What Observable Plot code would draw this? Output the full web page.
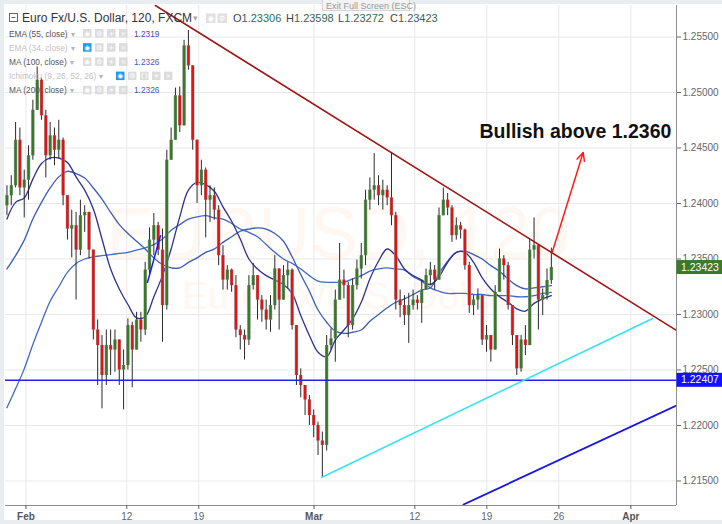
<!DOCTYPE html>
<html><head><meta charset="utf-8">
<script src="https://cdn.jsdelivr.net/npm/d3@7"></script>
<script src="https://cdn.jsdelivr.net/npm/@observablehq/plot@0.6"></script>
<style>
html,body{margin:0;padding:0;background:#e9edf0;}
#wrap{position:relative;width:722px;height:524px;background:#e9edf0;overflow:hidden;}
#panel{position:absolute;left:4px;top:4px;width:718px;height:516px;background:#fff;}
#chart{position:absolute;left:0;top:0;}
</style></head><body>
<div id="wrap"><div id="panel"></div><div id="chart"></div></div>
<script>
// ---------- DATA ----------
// x is measured in trading days since Feb 1 (weekends removed)
const tickDays = [0, 7, 12, 20, 27, 32, 37, 42];
const tickLabels = ["Feb", "12", "19", "Mar", "12", "19", "26", "Apr"];
const priceTicks = [1.215, 1.22, 1.225, 1.23, 1.235, 1.24, 1.245, 1.25, 1.255];
const xDomain = [-1.42, 45.17];
const yDomain = [1.21279, 1.25784];

// 120-min candles aggregated (one candle every 0.3 trading day)
const candleStartDay = -1.32;
const candleStep = 0.3;
const firstOpen = 1.2398;
const closes = [1.2407,1.2416,1.2457,1.2414,1.2421,1.2443,1.2484,1.2511,1.2479,1.2443,
1.2461,1.2448,1.2457,1.2407,1.2377,1.2380,1.2358,1.2389,1.2392,1.2358,
1.2286,1.2272,1.2245,1.2272,1.2268,1.2277,1.2250,1.2254,1.2290,1.2268,
1.2295,1.2286,1.2340,1.2367,1.2380,1.2358,1.2308,1.2439,1.2457,1.2497,
1.2470,1.2542,1.2524,1.2457,1.2416,1.2430,1.2403,1.2407,1.2394,1.2353,
1.2331,1.2340,1.2326,1.2286,1.2281,1.2277,1.2326,1.2335,1.2313,1.2304,
1.2295,1.2308,1.2341,1.2313,1.2335,1.2340,1.2290,1.2245,1.2236,1.2223,
1.2209,1.2200,1.2186,1.2182,1.2272,1.2278,1.2313,1.2331,1.2326,1.2290,
1.2326,1.2341,1.2353,1.2403,1.2412,1.2416,1.2407,1.2412,1.2405,1.2389,
1.2313,1.2308,1.2299,1.2308,1.2313,1.2310,1.2322,1.2335,1.2340,1.2331,
1.2389,1.2403,1.2396,1.2371,1.2380,1.2376,1.2344,1.2308,1.2313,1.2317,
1.2277,1.2281,1.2268,1.2320,1.2350,1.2344,1.2308,1.2281,1.2251,1.2277,
1.2272,1.2358,1.2362,1.2313,1.2317,1.23306,1.23423];
const highs = [1.2416,1.2425,1.2473,1.2468,1.2430,1.2452,1.2493,1.2523,1.2513,1.2484,
1.2473,1.2468,1.2475,1.2459,1.2407,1.2394,1.2392,1.2403,1.2398,1.2392,
1.2358,1.2295,1.2281,1.2286,1.2286,1.2286,1.2277,1.2268,1.2296,1.2293,
1.2302,1.2302,1.2347,1.2378,1.2391,1.2383,1.2377,1.2448,1.2468,1.2504,
1.2505,1.2547,1.2556,1.2524,1.2448,1.2439,1.2432,1.2416,1.2414,1.2398,
1.2362,1.2344,1.2341,1.2335,1.2290,1.2286,1.2335,1.2346,1.2335,1.2317,
1.2313,1.2317,1.2353,1.2341,1.2344,1.2347,1.2341,1.2290,1.2251,1.2236,
1.2227,1.2214,1.2203,1.2194,1.2281,1.2287,1.2322,1.2364,1.2340,1.2329,
1.2332,1.2349,1.2364,1.2412,1.2423,1.2445,1.2425,1.2421,1.2416,1.2446,
1.2392,1.2322,1.2317,1.2319,1.2322,1.2317,1.2331,1.2341,1.2347,1.2344,
1.2396,1.2414,1.2409,1.2398,1.2387,1.2383,1.2377,1.2347,1.2317,1.2323,
1.2317,1.2290,1.2281,1.2326,1.2359,1.2353,1.2347,1.2308,1.2281,1.2281,
1.2290,1.2368,1.2387,1.2362,1.2323,1.2341,1.23598];
const lows = [1.2389,1.2398,1.2414,1.2407,1.2387,1.2403,1.2439,1.2484,1.2475,1.2423,
1.2439,1.2434,1.2441,1.2398,1.2367,1.2351,1.2313,1.2353,1.2374,1.2350,
1.2277,1.2236,1.2215,1.2236,1.2245,1.2248,1.2236,1.2214,1.2250,1.2234,
1.2268,1.2275,1.2281,1.2335,1.2353,1.2353,1.2275,1.2304,1.2448,1.2457,
1.2464,1.2470,1.2520,1.2448,1.2400,1.2407,1.2369,1.2383,1.2385,1.2344,
1.2322,1.2322,1.2320,1.2279,1.2268,1.2259,1.2272,1.2322,1.2295,1.2293,
1.2286,1.2284,1.2304,1.2286,1.2313,1.2323,1.2286,1.2236,1.2225,1.2209,
1.2200,1.2189,1.2173,1.2153,1.2177,1.2268,1.2257,1.2313,1.2314,1.2279,
1.2286,1.2322,1.2332,1.2344,1.2394,1.2403,1.2398,1.2394,1.2398,1.2380,
1.2304,1.2297,1.2290,1.2274,1.2304,1.2304,1.2292,1.2322,1.2326,1.2322,
1.2335,1.2392,1.2389,1.2365,1.2367,1.2368,1.2340,1.2301,1.2299,1.2304,
1.2272,1.2266,1.2257,1.2268,1.2322,1.2331,1.2304,1.2272,1.2245,1.2248,
1.2263,1.2272,1.2350,1.2286,1.2299,1.2313,1.23272];

// moving averages, sampled every second candle
const maEvery = 2;
const ema55 = [1.2386,1.2401,1.2405,1.2422,1.2436,1.2441,1.2441,1.2437,1.2424,1.2412,
1.2395,1.2368,1.2341,1.2323,1.2309,1.2297,1.2298,1.2316,1.2335,1.2359,
1.2388,1.2412,1.2419,1.2417,1.2411,1.2397,1.2384,1.2368,1.2350,1.2341,
1.2335,1.2331,1.2327,1.2319,1.2299,1.2281,1.2266,1.2262,1.2277,1.2286,
1.2296,1.2311,1.2332,1.2348,1.2359,1.2353,1.2341,1.2335,1.2331,1.2327,
1.2334,1.2347,1.2356,1.2356,1.2347,1.2333,1.2323,1.2316,1.2311,1.2305,
1.2303,1.2310,1.2314,1.2317];
const ma100 = [1.2341,1.2353,1.2367,1.2386,1.2401,1.2414,1.2424,1.2429,1.2427,1.2423,
1.2414,1.2404,1.2392,1.2381,1.2373,1.2366,1.2359,1.2351,1.2345,1.2342,
1.2342,1.2347,1.2351,1.2356,1.2359,1.2365,1.2370,1.2375,1.2377,1.2378,
1.2377,1.2373,1.2366,1.2352,1.2336,1.2321,1.2304,1.2293,1.2285,1.2283,
1.2284,1.2286,1.2294,1.2300,1.2306,1.2311,1.2314,1.2318,1.2322,1.2324,
1.2337,1.2348,1.2356,1.2357,1.2354,1.2350,1.2344,1.2339,1.2332,1.2326,
1.2323,1.2324,1.2325,1.2326];
const ma200 = [1.2216,1.2233,1.2251,1.2273,1.2293,1.2312,1.2325,1.2338,1.2346,1.2350,
1.2352,1.2353,1.2354,1.2355,1.2356,1.2358,1.2360,1.2363,1.2368,1.2376,
1.2381,1.2386,1.2388,1.2389,1.2387,1.2386,1.2382,1.2377,1.2374,1.2370,
1.2363,1.2356,1.2350,1.2346,1.2341,1.2335,1.2330,1.2329,1.2329,1.2329,
1.2332,1.2335,1.2339,1.2341,1.2342,1.2341,1.2340,1.2334,1.2330,1.2324,
1.2321,1.2319,1.2319,1.2319,1.2318,1.2318,1.2317,1.2317,1.2317,1.2316,
1.2316,1.2317,1.2319,1.2320];

// drawings
const resistanceDays = [8.99, 45.17];
const resistancePrices = [1.25784, 1.22856];
const supportDays = [20.52, 43.51];
const supportPrices = [1.21532, 1.22964];
const channelDays = [30.38, 45.17];
const channelPrices = [1.21288, 1.2218];
const stubDays = [8.44, 9.34];
const stubPrices = [1.2329, 1.2371];
const horizontalLevel = 1.22407;
const lastPrice = 1.23423;
const arrowFrom = [36.54, 1.2356];
const arrowTo = [38.69, 1.2446];
const noteText = "Bullish above 1.2360";
const noteAt = [31.49, 1.2465];

// legend texts
const legendTitle = "Euro Fx/U.S. Dollar, 120, FXCM";
const ohlcLetters = ["O", "H", "L", "C"];
const ohlcValues = ["1.23306", "1.23598", "1.23272", "1.23423"];
const indicatorNames = ["EMA (55, close)", "EMA (34, close)", "MA (100, close)", "Ichimoku (9, 26, 52, 26)", "MA (200, close)"];
const indicatorValues = ["1.2319", null, "1.2326", null, "1.2326"];
const indicatorHidden = [false, true, false, true, false];
const watermark = ["EURUSD, 120", "Euro Fx/U.S. Dollar"];

// ---------- BUILD ----------
const candles = closes.map((c, i) => {
  const o = i === 0 ? firstOpen : closes[i - 1];
  return {day: candleStartDay + i * candleStep, open: o, close: c,
          high: Math.max(highs[i], o, c), low: Math.min(lows[i], o, c), up: c >= o};
});
const maRows = (arr) => arr.map((v, k) => ({day: candleStartDay + k * maEvery * candleStep, price: v}));
const pairRows = (days, prices) => days.map((d, i) => ({day: d, price: prices[i]}));
const labelOf = new Map(tickDays.map((d, i) => [d, tickLabels[i]]));
const monthTicks = tickDays.filter(d => isNaN(+labelOf.get(d)));
const dayTicks = tickDays.filter(d => !isNaN(+labelOf.get(d)));

const FONT = "Arial, 'Liberation Sans', sans-serif";

const plot = Plot.plot({
  width: 722, height: 524,
  marginLeft: 5, marginRight: 46, marginTop: 5, marginBottom: 19,
  style: {background: "transparent", fontFamily: FONT, fontSize: "10px", color: "#555", overflow: "visible"},
  x: {type: "linear", domain: xDomain, axis: null},
  y: {type: "linear", domain: yDomain, axis: null},
  marks: [
    Plot.text([watermark[0]], {frameAnchor: "middle", dx: -3, dy: -21, fontSize: 72, fill: "#fef7f2"}),
    Plot.text([watermark[1]], {frameAnchor: "middle", dx: 5, dy: 41, fontSize: 38, fill: "#fef7f2"}),
    Plot.gridX(tickDays, {stroke: "#e8e8e8", strokeOpacity: 1}),
    Plot.gridY(priceTicks, {stroke: "#e8e8e8", strokeOpacity: 1}),
    Plot.line(maRows(ma200), {x: "day", y: "price", stroke: "#4169c4", strokeWidth: 1.3, curve: "catmull-rom"}),
    Plot.line(maRows(ma100), {x: "day", y: "price", stroke: "#3a5cb6", strokeWidth: 1.3, curve: "catmull-rom"}),
    Plot.line(maRows(ema55), {x: "day", y: "price", stroke: "#30308f", strokeWidth: 1.3, curve: "catmull-rom"}),
    Plot.ruleX(candles, {x: "day", y1: "low", y2: "high", stroke: "#2a2a2a", strokeWidth: 1}),
    Plot.ruleX(candles, {x: "day", y1: "open", y2: "close", stroke: "#9a9a9a", strokeWidth: 3.4}),
    Plot.ruleX(candles, {x: "day", y1: "open", y2: "close", stroke: d => d.up ? "#367a28" : "#e01212", strokeWidth: 2.4}),
    Plot.line(pairRows(stubDays, stubPrices), {x: "day", y: "price", stroke: "#1a1aff", strokeWidth: 1.5}),
    Plot.ruleY([horizontalLevel], {stroke: "#2020ff", strokeWidth: 1.6}),
    Plot.line(pairRows(resistanceDays, resistancePrices), {x: "day", y: "price", stroke: "#a01515", strokeWidth: 1.6, clip: true}),
    Plot.line(pairRows(supportDays, supportPrices), {x: "day", y: "price", stroke: "#35e4f4", strokeWidth: 1.6, clip: true}),
    Plot.line(pairRows(channelDays, channelPrices), {x: "day", y: "price", stroke: "#1515e8", strokeWidth: 1.8, clip: true}),
    Plot.arrow([{x1: arrowFrom[0], y1: arrowFrom[1], x2: arrowTo[0], y2: arrowTo[1]}],
      {x1: "x1", y1: "y1", x2: "x2", y2: "y2", stroke: "#ff1c1c", strokeWidth: 1.5, headLength: 9, headAngle: 50}),
    Plot.text([{day: noteAt[0], price: noteAt[1], t: noteText}],
      {x: "day", y: "price", text: "t", textAnchor: "start", fontSize: 19.5, fontWeight: "bold", fill: "#111", fontFamily: FONT}),
    Plot.ruleY([yDomain[0]], {stroke: "#8e8e8e"}),
    Plot.ruleX([xDomain[1]], {stroke: "#8e8e8e"}),
    Plot.axisY(priceTicks, {anchor: "right", tickFormat: d => d.toFixed(5), tickSize: 4, tickPadding: 2, fontSize: 10, label: null, color: "#666"}),
    Plot.axisX(monthTicks, {anchor: "bottom", tickFormat: d => labelOf.get(d), tickSize: 4, tickPadding: 3, fontSize: 10, fontWeight: "bold", label: null, color: "#555"}),
    Plot.axisX(dayTicks, {anchor: "bottom", tickFormat: d => labelOf.get(d), tickSize: 4, tickPadding: 3, fontSize: 10, label: null, color: "#666"})
  ]
});
document.getElementById("chart").appendChild(plot);

// ---------- overlays drawn with the plot's own y scale ----------
const svg = d3.select(plot);
const ys = plot.scale("y");
const yPx = ys.apply ? (v => ys.apply(v)) : d3.scaleLinear(ys.domain, ys.range);

const O = svg.append("g").attr("text-anchor", "start").attr("font-family", FONT);
function priceTag(v, fill) {
  const y = yPx(v);
  O.append("rect").attr("x", 676.5).attr("y", y - 7).attr("width", 46).attr("height", 14).attr("fill", fill);
  O.append("text").attr("x", 681).attr("y", y + 3.6).attr("fill", "#fff").attr("font-size", 10.5).text(v.toFixed(5));
}
priceTag(lastPrice, "#3b7a2a");
priceTag(horizontalLevel, "#1111ff");

// ---------- legend ----------
const L = svg.append("g").attr("font-family", FONT).attr("text-anchor", "start");
function iconBox(x, y, size, fill, glyph) {
  L.append("rect").attr("x", x).attr("y", y).attr("width", size).attr("height", size).attr("fill", fill);
  L.append("text").attr("x", x + size / 2).attr("y", y + size * 0.78).attr("text-anchor", "middle")
    .attr("font-size", size * 0.8).attr("fill", "#fff").attr("font-family", "DejaVu Sans").text(glyph);
}
L.append("rect").attr("x", 9.5).attr("y", 13.5).attr("width", 8).attr("height", 8).attr("fill", "none").attr("stroke", "#666");
L.append("line").attr("x1", 11.5).attr("x2", 15.5).attr("y1", 17.5).attr("y2", 17.5).attr("stroke", "#666");
L.append("text").attr("x", 22).attr("y", 22).attr("font-size", 12).attr("fill", "#333").text(legendTitle);
L.append("text").attr("x", 193).attr("y", 21).attr("font-size", 9).attr("fill", "#aaa").text("▾");
iconBox(206, 13.5, 9.5, "#e0e0e0", "◉");
iconBox(217.5, 13.5, 9.5, "#e0e0e0", "⚙");
const ohlcX = [233, 286, 338, 390];
ohlcLetters.forEach((ch, i) => {
  const t = L.append("text").attr("x", ohlcX[i]).attr("y", 22).attr("font-size", 11);
  t.append("tspan").attr("fill", "#444").text(ch);
  t.append("tspan").attr("fill", "#2f6a52").text(ohlcValues[i]);
});
indicatorNames.forEach((name, k) => {
  const base = 36.5 + 14.2 * k;
  const hidden = indicatorHidden[k];
  const t = L.append("text").attr("x", 9).attr("y", base).attr("font-size", 8.3)
    .attr("fill", hidden ? "#c3c3c3" : "#555").text(name);
  const w = t.node().getComputedTextLength();
  L.append("text").attr("x", 9 + w + 3).attr("y", base).attr("font-size", 8).attr("fill", "#b5b5b5").text("▾");
  const isIchi = name.startsWith("Ichimoku");
  const glyphs = isIchi ? ["◉", "⚙", "{}", "+", "×"] : ["◉", "⚙", "+", "×"];
  const x0 = isIchi ? 116 : 83;
  glyphs.forEach((gl, j) => iconBox(x0 + j * 12, base - 7.5, 8.5, (hidden && j === 0) ? "#2196f3" : "#dcdcdc", gl));
  if (indicatorValues[k]) {
    L.append("text").attr("x", 134).attr("y", base).attr("font-size", 8.3)
      .attr("fill", k === 0 ? "#4848b0" : "#3d5db5").text(indicatorValues[k]);
  }
});
// full-screen tooltip
L.append("rect").attr("x", 322.5).attr("y", -1).attr("width", 87).attr("height", 11.5).attr("fill", "#f3f3f3").attr("stroke", "#d6d6d6");
L.append("text").attr("x", 326).attr("y", 8.5).attr("font-size", 9).attr("fill", "#9a9a9a").text("Exit Full Screen (ESC)");
</script></body></html>
